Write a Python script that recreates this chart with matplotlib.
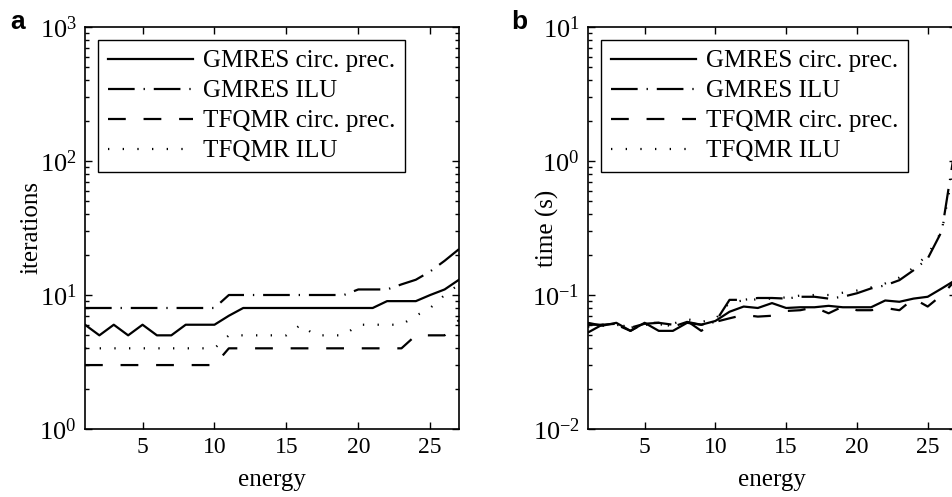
import numpy as np
import matplotlib
matplotlib.use("Agg")
import matplotlib.pyplot as plt

plt.rcParams["font.family"] = ["Liberation Serif", "DejaVu Serif"]
plt.rcParams["mathtext.fontset"] = "custom"
plt.rcParams["mathtext.rm"] = "Liberation Serif"
plt.rcParams["axes.unicode_minus"] = False

energy = np.arange(1, 28)

labels = ["GMRES circ. prec.", "GMRES ILU", "TFQMR circ. prec.", "TFQMR ILU"]

# panel a: iterations
gmres_circ_it = [6, 5, 6, 5, 6, 5, 5, 6, 6, 6, 7, 8, 8, 8, 8, 8, 8, 8, 8, 8, 8, 9, 9, 9, 10, 11, 13]
gmres_ilu_it = [8, 8, 8, 8, 8, 8, 8, 8, 8, 8, 10, 10, 10, 10, 10, 10, 10, 10, 10, 11, 11, 11, 12, 13, 15, 18, 22]
tfqmr_circ_it = [3, 3, 3, 3, 3, 3, 3, 3, 3, 3, 4, 4, 4, 4, 4, 4, 4, 4, 4, 4, 4, 4, 4, 5, 5, 5, 6.5]
tfqmr_ilu_it = [4, 4, 4, 4, 4, 4, 4, 4, 4, 4, 5, 5, 5, 5, 5, 6, 5, 5, 5, 6, 6, 6, 6, 7, 8, 10, 12]

# panel b: time (s)
gmres_circ_t = [0.062, 0.059, 0.062, 0.054, 0.062, 0.054, 0.054, 0.062, 0.060, 0.064,
                0.075, 0.082, 0.080, 0.087, 0.080, 0.081, 0.081, 0.083, 0.081, 0.081,
                0.081, 0.091, 0.089, 0.094, 0.097, 0.112, 0.13]
gmres_ilu_t = [0.060, 0.060, 0.061, 0.057, 0.061, 0.062, 0.058, 0.063, 0.060, 0.063,
               0.092, 0.092, 0.095, 0.095, 0.094, 0.097, 0.097, 0.094, 0.097, 0.103,
               0.112, 0.118, 0.129, 0.153, 0.187, 0.30, 1.4]
tfqmr_circ_t = [0.0525, 0.060, 0.060, 0.054, 0.062, 0.062, 0.060, 0.064, 0.054, 0.063,
                0.067, 0.071, 0.069, 0.070, 0.076, 0.077, 0.081, 0.073, 0.082, 0.077,
                0.077, 0.080, 0.077, 0.094, 0.082, 0.100, 0.13]
tfqmr_ilu_t = [0.058, 0.059, 0.060, 0.057, 0.060, 0.060, 0.061, 0.066, 0.063, 0.066,
               0.088, 0.091, 0.093, 0.094, 0.096, 0.099, 0.100, 0.100, 0.104, 0.108,
               0.114, 0.122, 0.135, 0.160, 0.200, 0.30, 1.1]

styles = [
    dict(linestyle="-"),
    dict(linestyle=(0, (12, 4, 0.6, 4))),
    dict(linestyle=(0, (8, 8))),
    dict(linestyle=(0, (0.6, 6))),
]

fig = plt.figure(figsize=(9.53, 4.97), dpi=100)
ax_a = fig.add_axes([85 / 953, 68 / 497, 374 / 953, 402 / 497])
ax_b = fig.add_axes([588 / 953, 68 / 497, 368 / 953, 402 / 497])


def draw(ax, series, ylim, ylabel, label_x):
    for ys, lab, st in zip(series, labels, styles):
        ax.semilogy(energy, ys, color="black", lw=1.6, label=lab, **st)
    ax.set_xlim(1, 27)
    ax.set_ylim(*ylim)
    ax.set_xticks([5, 10, 15, 20, 25])
    ax.tick_params(which="both", direction="in", top=True, right=True, width=1)
    ax.tick_params(axis="x", labelsize=17)
    ax.tick_params(axis="y", labelsize=19)
    ax.tick_params(which="major", length=5, pad=6)
    ax.tick_params(which="minor", length=3)
    for s in ax.spines.values():
        s.set_linewidth(1.2)
    ax.set_xlabel("energy", fontsize=18, labelpad=8)
    ax.set_ylabel(ylabel, fontsize=18)
    ax.yaxis.set_label_coords(label_x, 0.5)
    leg = ax.legend(loc="upper left", bbox_to_anchor=(0.035, 0.968), borderaxespad=0,
                    fontsize=18, fancybox=False, framealpha=1, edgecolor="black",
                    handlelength=3.4, handletextpad=0.4, labelspacing=0.3,
                    borderpad=0.4)
    leg.get_frame().set_linewidth(1.0)


draw(ax_a, [gmres_circ_it, gmres_ilu_it, tfqmr_circ_it, tfqmr_ilu_it], (1, 1000), "iterations", -0.115)
draw(ax_b, [gmres_circ_t, gmres_ilu_t, tfqmr_circ_t, tfqmr_ilu_t], (0.01, 10), "time (s)", -0.08)

fig.text(10 / 953, 1 - 22 / 497, "a", fontsize=19, fontweight="bold",
         family="Liberation Sans", va="center")
fig.text(511 / 953, 1 - 22 / 497, "b", fontsize=19, fontweight="bold",
         family="Liberation Sans", va="center")

fig.savefig("out.png", dpi=100)
